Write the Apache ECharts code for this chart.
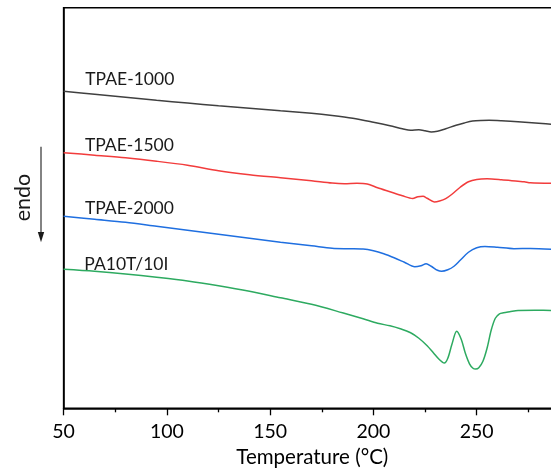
<!DOCTYPE html>
<html>
<head>
<meta charset="utf-8">
<script src="https://cdn.jsdelivr.net/npm/echarts@6/dist/echarts.min.js"></script>
<style>
  html, body { margin: 0; padding: 0; background: #ffffff; }
  #chart { width: 551px; height: 473px; }
</style>
</head>
<body>
<div id="chart"></div>
<script>
// DSC heating curves (heat flow in arbitrary units, curves offset vertically)
const tempTPAE1000 = [50, 65, 80, 95, 110, 125, 140, 155, 170, 180, 190, 200, 208, 214, 218, 222, 225, 228, 231, 235, 240, 244, 248, 252, 256, 262, 270, 280, 288];
const heatTPAE1000 = [319, 316, 313, 310, 307.2, 304.5, 302, 299.5, 297, 294.8, 292, 288, 284.5, 281.5, 279.9, 280.5, 279.5, 278.2, 279, 281.5, 285, 287.3, 289.2, 289.8, 289.9, 289.5, 288.6, 287, 285.6];

const tempTPAE1500 = [50, 65, 80, 95, 110, 125, 140, 155, 170, 180, 186, 192, 197, 202, 208, 214, 219, 221.5, 224, 226, 229.5, 232, 235, 238, 242, 246, 250, 255, 262, 270, 273, 276, 288];
const heatTPAE1500 = [257.6, 255, 252.4, 249, 245, 239.5, 235.5, 232.5, 229.5, 227.2, 226.6, 227, 226.3, 222.5, 218.5, 214.5, 211.8, 213.5, 214, 212, 208.3, 209.2, 211.6, 216, 223, 228.5, 230.8, 231.4, 230.5, 229, 228.5, 227.5, 226.8];

const tempTPAE2000 = [50, 65, 80, 95, 110, 125, 140, 155, 170, 180, 188, 195, 200, 205, 210, 215, 220, 223, 225.5, 228, 231, 233, 236, 239, 242, 246, 250, 254, 260, 268, 276, 288];
const heatTPAE2000 = [194, 191, 188, 184, 180, 176, 172, 168, 164.5, 162, 161.5, 161.2, 159.5, 156.5, 152.5, 148, 143.5, 144.5, 146.5, 144, 140, 139, 140.5, 144, 150, 158, 162.5, 163.8, 163, 161.6, 161.8, 160.8];

const tempPA10T = [50, 65, 80, 95, 110, 125, 140, 155, 170, 185, 195, 202, 208, 213, 218, 222, 226, 229, 232, 234.3, 236, 238, 240.3, 242.5, 244.5, 246.5, 248.2, 249.5, 251, 253, 255, 257, 259, 261, 263, 266, 270, 278, 288];
const heatPA10T = [141, 139, 136.3, 133, 129.3, 124.5, 119, 112.5, 106, 97.5, 91.5, 87, 84.5, 81.5, 77.5, 72, 64.5, 57.5, 50.5, 47.2, 52, 66, 79, 71, 57, 46.5, 42, 41.2, 42.5, 49, 62, 80, 92, 96.5, 97.5, 98.5, 99.8, 100, 99.8];

const seriesNames = ['TPAE-1000', 'TPAE-1500', 'TPAE-2000', 'PA10T/10I'];
const seriesColors = ['#404040', '#f23c3c', '#1f6fe0', '#2daa60'];
const seriesTemps = [tempTPAE1000, tempTPAE1500, tempTPAE2000, tempPA10T];
const seriesHeats = [heatTPAE1000, heatTPAE1500, heatTPAE2000, heatPA10T];

// curve captions, anchored at (temperature, heat flow) of their left baseline
const captionTemps = [60.5, 60.3, 60.3, 60.0];
const captionHeats = [325.6, 259.9, 196.9, 141.4];

const FONT = 'Lato';
const chart = echarts.init(document.getElementById('chart'), null, { renderer: 'canvas' });

function zip(xs, ys) { return xs.map((x, i) => [x, ys[i]]); }

chart.setOption({
  animation: false,
  backgroundColor: '#ffffff',
  grid: {
    left: 63.6, right: -29, top: 7.7, bottom: 64.7,
    containLabel: false, outerBoundsMode: 'none',
    show: true, borderColor: '#000', borderWidth: 1.5, backgroundColor: 'transparent'
  },
  xAxis: {
    type: 'value', min: 50, max: 300, interval: 50,
    name: 'Temperature (°C)', nameLocation: 'middle', nameGap: 39,
    nameTextStyle: { fontFamily: FONT, fontSize: 20.5, color: '#000', padding: [0, 19, 0, 0] },
    axisLine: { show: true, lineStyle: { color: '#000', width: 1.5 } },
    axisTick: { show: true, inside: false, length: 7, lineStyle: { color: '#000', width: 1.3 } },
    minorTick: { show: true, splitNumber: 2, length: 4, lineStyle: { color: '#000', width: 1.3 } },
    axisLabel: { fontFamily: FONT, fontSize: 19.5, color: '#000', margin: 13 },
    splitLine: { show: false },
    minorSplitLine: { show: false }
  },
  yAxis: {
    type: 'value', min: 2, max: 402.5,
    axisLine: { show: true, lineStyle: { color: '#000', width: 1.5 } },
    axisTick: { show: false },
    axisLabel: { show: false },
    splitLine: { show: false }
  },
  series: seriesNames.map((name, i) => ({
    name: name,
    type: 'line',
    data: zip(seriesTemps[i], seriesHeats[i]),
    showSymbol: false,
    smooth: 0.3,
    lineStyle: { color: seriesColors[i], width: 1.5 },
    itemStyle: { color: seriesColors[i] }
  }))
});

// captions and the "endo" direction marker
const graphics = seriesNames.map((name, i) => {
  const p = chart.convertToPixel({ gridIndex: 0 }, [captionTemps[i], captionHeats[i]]);
  return {
    type: 'text', x: p[0], y: p[1] + 4,
    style: { text: name, font: '17.5px ' + FONT, fill: '#1a1a1a', align: 'left', verticalAlign: 'bottom' }
  };
});
graphics.push(
  { type: 'line', shape: { x1: 41, y1: 146.7, x2: 41, y2: 234 }, style: { stroke: '#5a5a5a', lineWidth: 1.5 } },
  { type: 'polygon', shape: { points: [[37.8, 232], [44.2, 232], [41, 242.3]] }, style: { fill: '#1a1a1a' } },
  {
    type: 'text', x: 23, y: 197.5, rotation: Math.PI / 2,
    style: { text: 'endo', font: '21.5px ' + FONT, fill: '#1a1a1a', align: 'center', verticalAlign: 'middle' }
  }
);
chart.setOption({ graphic: graphics });
</script>
</body>
</html>
